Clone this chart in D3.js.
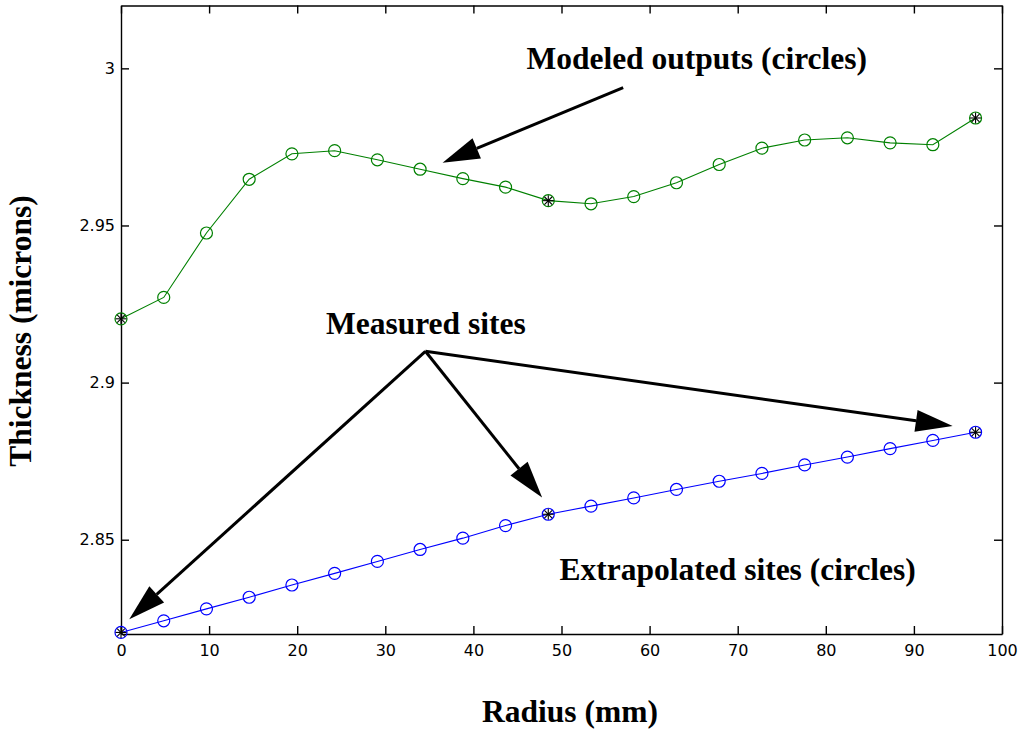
<html>
<head>
  <title>Thickness vs Radius</title>
  <script src="https://d3js.org/d3.v7.min.js"></script>
  <style>
    body { margin: 0; background: #fff; }
    .axis text { font-family: "DejaVu Sans", Arial, sans-serif; font-size: 16px; fill: #000; }
    .axis line, .axis path { stroke: #000; stroke-width: 1.4; }
    .note { font-family: "Liberation Serif", "Times New Roman", serif; font-weight: bold; font-size: 31.5px; fill: #000; }
  </style>
</head>
<body>
  <svg id="plot" width="1024" height="734"></svg>

  <script>
    // radius (mm) of each site
    const radius = [0, 4.85, 9.7, 14.55, 19.4, 24.25, 29.1, 33.95, 38.8, 43.65, 48.5,
                    53.35, 58.2, 63.05, 67.9, 72.75, 77.6, 82.45, 87.3, 92.15, 97];
    // modeled outputs (green)
    const modeled = [2.9203, 2.9271, 2.9476, 2.9647, 2.9728, 2.9738, 2.9709, 2.9679, 2.9649, 2.9622, 2.9579,
                     2.9569, 2.9592, 2.9636, 2.9694, 2.9746, 2.9772, 2.9779, 2.9763, 2.9757, 2.9842];
    // extrapolated sites (blue)
    const extrapolated = [2.8205, 2.8242, 2.8280, 2.8317, 2.8356, 2.8393, 2.8431, 2.8469, 2.8505, 2.8545, 2.8581,
                          2.8607, 2.8633, 2.8660, 2.8686, 2.8711, 2.8738, 2.8763, 2.8790, 2.8816, 2.8842];
    // indexes of measured sites (asterisks)
    const measuredIdx = [0, 10, 20];

    const xTicks = [0, 10, 20, 30, 40, 50, 60, 70, 80, 90, 100];
    const yTicks = [2.85, 2.9, 2.95, 3];
    const yTickLabels = ["2.85", "2.9", "2.95", "3"];

    // annotations, in data units
    const notes = [
      { text: "Modeled outputs (circles)", x: 65.35, y: 2.9998 },
      { text: "Measured sites", x: 34.6, y: 2.9156 },
      { text: "Extrapolated sites (circles)", x: 70.0, y: 2.8371 }
    ];
    const arrows = [
      { x0: 57.0, y0: 2.99384, x1: 36.5, y1: 2.9700 },
      { x0: 34.55, y0: 2.90997, x1: 0.94, y1: 2.8247 },
      { x0: 34.55, y0: 2.90997, x1: 47.8, y1: 2.8634 },
      { x0: 34.55, y0: 2.90997, x1: 94.4, y1: 2.8862 }
    ];

    const plot = d3.select("svg#plot");
    const width = +plot.attr("width");
    const height = +plot.attr("height");
    const margin = { top: 5.5, right: 22, bottom: 100, left: 121 };
    const chartWidth = width - margin.left - margin.right;
    const chartHeight = height - margin.top - margin.bottom;

    plot.append("rect").attr("width", width).attr("height", height).attr("fill", "#fff");

    const xScale = d3.scaleLinear().domain([0, 100]).range([0, chartWidth]);
    const yScale = d3.scaleLinear().domain([2.82, 3.02]).range([chartHeight, 0]);

    const chartArea = plot.append("g").attr("transform", "translate(" + margin.left + "," + margin.top + ")");

    // axes box, ticks pointing inward
    chartArea.append("g").attr("class", "axis")
      .attr("transform", "translate(0," + chartHeight + ")")
      .call(d3.axisBottom(xScale).tickValues(xTicks).tickSizeInner(-8).tickSizeOuter(0).tickPadding(11));
    chartArea.append("g").attr("class", "axis")
      .call(d3.axisLeft(yScale).tickValues(yTicks).tickFormat((d, i) => yTickLabels[i])
              .tickSizeInner(-8).tickSizeOuter(0).tickPadding(6));
    chartArea.append("g").attr("class", "axis")
      .call(d3.axisTop(xScale).tickValues(xTicks).tickFormat("").tickSizeInner(-8).tickSizeOuter(0));
    chartArea.append("g").attr("class", "axis")
      .attr("transform", "translate(" + chartWidth + ",0)")
      .call(d3.axisRight(yScale).tickValues(yTicks).tickFormat("").tickSizeInner(-8).tickSizeOuter(0));

    // series
    const series = [
      { values: modeled, color: "#008000" },
      { values: extrapolated, color: "#0000ff" }
    ];
    const line = d3.line().x((d, i) => xScale(radius[i])).y(d => yScale(d));

    series.forEach(s => {
      chartArea.append("path").datum(s.values)
        .attr("d", line)
        .attr("fill", "none")
        .attr("stroke", s.color)
        .attr("stroke-width", 1.1);
      chartArea.selectAll(null).data(s.values).join("circle")
        .attr("cx", (d, i) => xScale(radius[i]))
        .attr("cy", d => yScale(d))
        .attr("r", 6)
        .attr("fill", "none")
        .attr("stroke", s.color)
        .attr("stroke-width", 1.2);
      // asterisks at measured sites
      const star = chartArea.selectAll(null).data(measuredIdx).join("g")
        .attr("transform", i => "translate(" + xScale(radius[i]) + "," + yScale(s.values[i]) + ")");
      [0, 45, 90, 135].forEach(a => {
        star.append("line")
          .attr("x1", -5.5).attr("x2", 5.5).attr("y1", 0).attr("y2", 0)
          .attr("transform", "rotate(" + a + ")")
          .attr("stroke", "#000").attr("stroke-width", 1.1);
      });
    });

    // arrows
    const headLen = 37, headHalf = 11;
    arrows.forEach(a => {
      const x0 = xScale(a.x0), y0 = yScale(a.y0), x1 = xScale(a.x1), y1 = yScale(a.y1);
      const ang = Math.atan2(y1 - y0, x1 - x0);
      const bx = x1 - headLen * Math.cos(ang), by = y1 - headLen * Math.sin(ang);
      chartArea.append("line")
        .attr("x1", x0).attr("y1", y0).attr("x2", bx).attr("y2", by)
        .attr("stroke", "#000").attr("stroke-width", 3);
      const px = -Math.sin(ang) * headHalf, py = Math.cos(ang) * headHalf;
      chartArea.append("polygon")
        .attr("points", [[x1, y1], [bx + px, by + py], [bx - px, by - py]].map(p => p.join(",")).join(" "))
        .attr("fill", "#000");
    });

    chartArea.selectAll("text.note").data(notes).join("text")
      .attr("class", "note")
      .attr("x", d => xScale(d.x))
      .attr("y", d => yScale(d.y))
      .attr("text-anchor", "middle")
      .text(d => d.text);

    // axis labels
    plot.append("text").attr("class", "note")
      .attr("x", 570).attr("y", 722)
      .attr("text-anchor", "middle")
      .text("Radius (mm)");
    plot.append("text").attr("class", "note")
      .attr("transform", "translate(31,331) rotate(-90)")
      .attr("text-anchor", "middle")
      .text("Thickness (microns)");
  </script>
</body>
</html>
